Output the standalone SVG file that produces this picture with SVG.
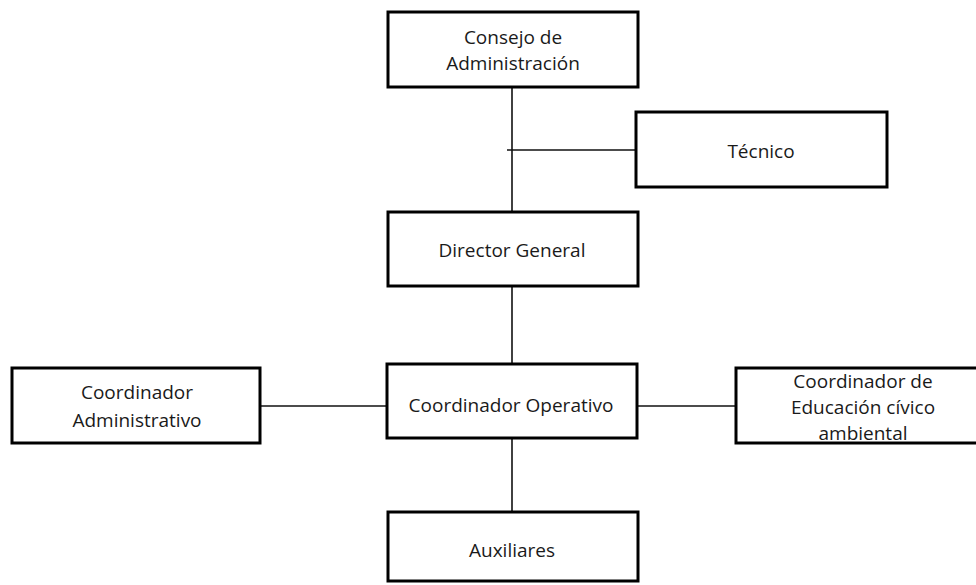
<svg xmlns="http://www.w3.org/2000/svg" width="976" height="585" viewBox="0 0 976 585">
<style>
.box{fill:#fff;stroke:#000;stroke-width:3}
.ln{stroke:#111;stroke-width:1.6;fill:none}
text{font-family:"Open Sans","Liberation Sans",sans-serif;font-size:19px;fill:#1a1a1a;text-anchor:middle;dominant-baseline:central}
</style>
<rect width="976" height="585" fill="#fff"/>
<g id="connectors">
<line class="ln" x1="512" y1="87" x2="512" y2="212"/>
<line class="ln" x1="507" y1="150" x2="636" y2="150"/>
<line class="ln" x1="512" y1="286" x2="512" y2="364"/>
<line class="ln" x1="512" y1="438" x2="512" y2="512"/>
<line class="ln" x1="260" y1="406" x2="387" y2="406"/>
<line class="ln" x1="637" y1="406" x2="736" y2="406"/>
</g>
<g id="consejo">
<rect class="box" x="388" y="12" width="250" height="75"/>
<text x="513" y="37">Consejo de</text>
<text x="513" y="63">Administración</text>
</g>
<g id="tecnico">
<rect class="box" x="636" y="112" width="251" height="75"/>
<text x="761" y="151">Técnico</text>
</g>
<g id="director">
<rect class="box" x="388" y="212" width="250" height="74"/>
<text x="512" y="250">Director General</text>
</g>
<g id="operativo">
<rect class="box" x="387" y="364" width="250" height="74"/>
<text x="511" y="405">Coordinador Operativo</text>
</g>
<g id="administrativo">
<rect class="box" x="12" y="368" width="248" height="75"/>
<text x="137" y="392">Coordinador</text>
<text x="137" y="420">Administrativo</text>
</g>
<g id="educacion">
<rect class="box" x="736" y="368" width="245" height="75"/>
<text x="863" y="381">Coordinador de</text>
<text x="863" y="407">Educación cívico</text>
<text x="863" y="433">ambiental</text>
</g>
<g id="auxiliares">
<rect class="box" x="388" y="512" width="250" height="69"/>
<text x="512" y="550">Auxiliares</text>
</g>
</svg>
